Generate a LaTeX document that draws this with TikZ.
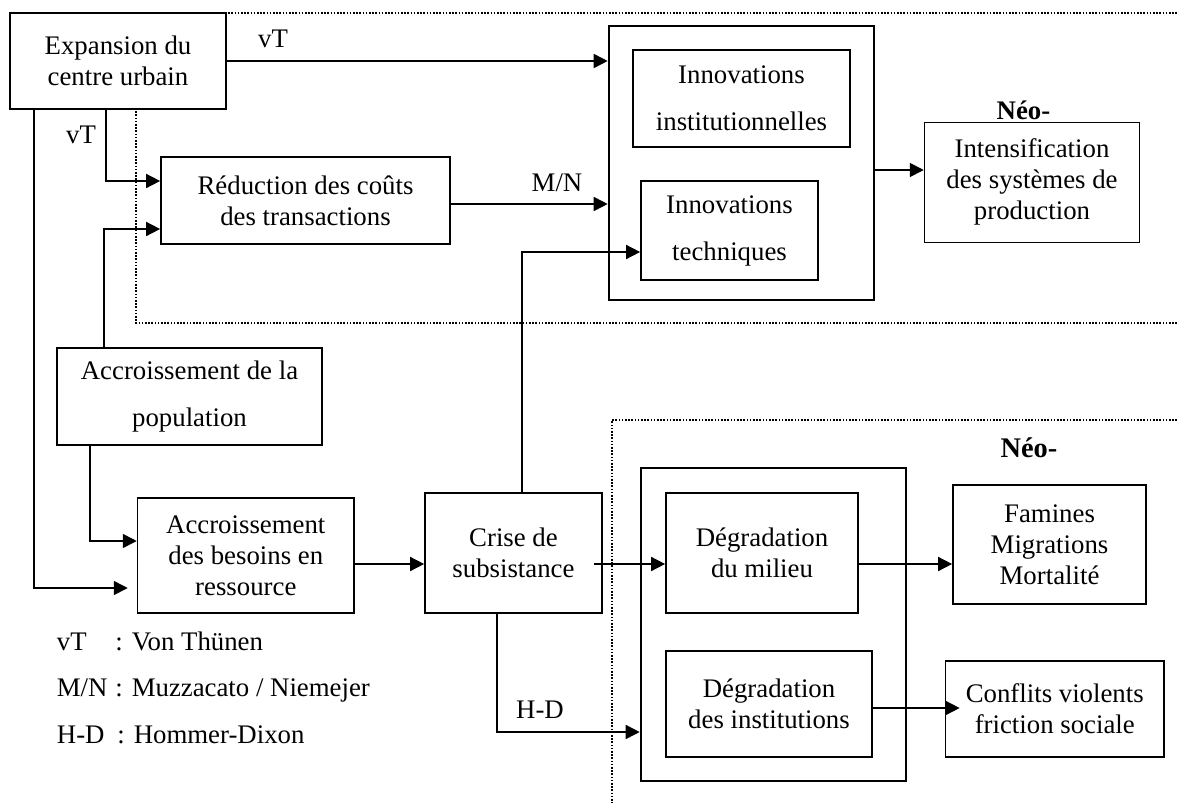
\documentclass[tikz,border=0pt]{standalone}
\usepackage{fontspec}
\setmainfont{Liberation Serif}
\usetikzlibrary{arrows.meta,calc}
\begin{document}
\begin{tikzpicture}[x=0.5pt,y=-0.5pt,
 box/.style={draw, line width=0.85pt, fill=white, inner sep=0pt, align=center, font=\fontsize{13.4}{15.5}\selectfont},
 wide/.style={font=\fontsize{13.4}{23.5}\selectfont},
 thinbox/.style={line width=0.5pt},
 bigbox/.style={draw, line width=1.3pt, fill=white, inner sep=0pt},
 arr/.style={line width=0.8pt, -{Triangle[length=7pt,width=7pt]}},
 lbl/.style={font=\fontsize{13.4}{15.5}\selectfont, inner sep=0pt},
 neo/.style={font=\fontsize{13.4}{15.5}\selectfont\bfseries, inner sep=0pt},
 zone/.style={line width=1pt, dash pattern=on 0.8pt off 0.8pt}]
\useasboundingbox (0,0) rectangle (1177,803);
% dotted zones
\draw[zone] (1177,13) -- (136,13) -- (136,323) -- (1177,323);
\draw[zone] (1177,420) -- (612,420) -- (612,803);
% big frames
\node[bigbox, minimum width=132.5pt, minimum height=137pt] (big1) at (741.5,163) {};
\node[bigbox, minimum width=132.5pt, minimum height=156.5pt] (big2) at (773.5,624.5) {};
% boxes
\node[box, minimum width=108pt, minimum height=48pt] (exp) at (118,61) {Expansion du\\centre urbain};
\node[box, minimum width=144.5pt, minimum height=43.5pt] (red) at (305.5,200.5) {Réduction des coûts\\des transactions};
\node[box, wide, minimum width=108.5pt, minimum height=48.5pt] (inst) at (741.5,98.5) {Innovations\\institutionnelles};
\node[box, wide, minimum width=88.5pt, minimum height=49.5pt] (tech) at (729.5,230.5) {Innovations\\techniques};
\node[box, thinbox, minimum width=107.75pt, minimum height=60pt] (int) at (1032,182) {Intensification\\des systèmes de\\production};
\node[box, wide, minimum width=132.5pt, minimum height=48.5pt] (pop) at (189.5,396.5) {Accroissement de la\\population};
\node[box, minimum width=108.2pt, minimum height=57.5pt] (bes) at (245.8,555.5) {Accroissement\\des besoins en\\ressource};
\node[box, minimum width=88.5pt, minimum height=60pt] (cri) at (513.5,553) {Crise de\\subsistance};
\node[box, minimum width=96pt, minimum height=60pt] (mil) at (762,553) {Dégradation\\du milieu};
\node[box, minimum width=103pt, minimum height=53pt] (ins) at (769,704) {Dégradation\\des institutions};
\node[box, minimum width=96.5pt, minimum height=59.5pt] (fam) at (1049.5,544.5) {Famines\\Migrations\\Mortalité};
\node[box, minimum width=109.25pt, minimum height=48pt] (con) at (1054.75,709) {Conflits violents\\friction sociale};
% headings
\node[neo] (neo1) at (1023.5,110) {Néo-};
\node[neo, font=\fontsize{14.2}{16}\selectfont\bfseries] (neo2) at (1029,448) {Néo-};
% connectors
\draw[arr] (exp.east) -- (exp.east -| big1.west);
\node[lbl] (lvt1) at (273,39) {vT};
\draw[arr] (exp.south -| 106,0) |- (red.west |- 0,181);
\node[lbl] (lvt2) at (81,135) {vT};
\draw[arr] (pop.north -| 104,0) |- (red.west |- 0,229);
\draw[arr, shorten >=4.5pt] (exp.south -| 34,0) |- (bes.west |- 0,588);
\draw[arr] (pop.south -| 90,0) |- (bes.west |- 0,541);
\draw[arr] (red.east |- 0,204) -- (big1.west |- 0,204);
\node[lbl] (lmn) at (557,183) {M/N};
\draw[arr] (cri.north -| 522,0) |- (tech.west |- 0,252);
\draw[arr] (big1.east |- 0,170) -- (int.west |- 0,170);
\draw[arr] (bes.east |- 0,564) -- (cri.west |- 0,564);
\draw[arr] ([xshift=-4.5pt]cri.east |- 0,564) -- (mil.west |- 0,564);
\draw[arr] (cri.south -| 497,0) |- (big2.west |- 0,732);
\node[lbl] (lhd) at (540,710) {H-D};
\draw[arr] (mil.east |- 0,564) -- (fam.west |- 0,564);
\draw[arr, shorten >=-7.5pt] (ins.east |- 0,708) -- (con.west |- 0,708);
% legend
\node[lbl, anchor=base west] (k1) at (56.5,650) {vT};
\node[lbl, anchor=base west] (v1) at (115,650) {: Von Thünen};
\node[lbl, anchor=base west] (k2) at (56.5,696) {M/N};
\node[lbl, anchor=base west] (v2) at (115,696) {: Muzzacato / Niemejer};
\node[lbl, anchor=base west] (k3) at (56.5,743) {H-D};
\node[lbl, anchor=base west] (v3) at (117,743) {: Hommer-Dixon};
\end{tikzpicture}
\end{document}
